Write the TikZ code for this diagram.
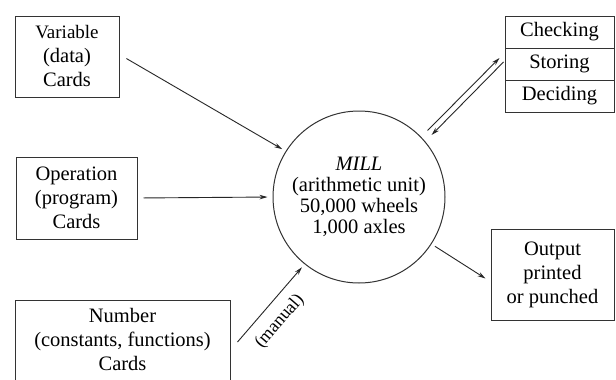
\documentclass[tikz,border=0pt]{standalone}
\usepackage{fontspec}
\setmainfont{Liberation Serif}
\usetikzlibrary{arrows.meta,calc}
\newcommand{\txtfont}{\fontsize{20.5}{24}\selectfont}
\newcommand{\millfont}{\fontsize{20.5}{21}\selectfont}
\begin{document}
\begin{tikzpicture}[x=1pt,y=-1pt,
  box/.style={draw=black!80, line width=1pt, inner sep=0pt, align=center, font=\txtfont},
  txt/.style={inner sep=0pt, align=center, font=\txtfont},
  arr/.style={draw=black!85, line width=0.9pt, -{Stealth[length=8pt,width=4.5pt]}},
  rarr/.style={draw=black!85, line width=0.9pt, {Stealth[length=8pt,width=4.5pt]}-}]
\useasboundingbox (0,0) rectangle (616,380);
\fill[white] (0,0) rectangle (616,380);

% boxes
\node[box, minimum width=104pt, minimum height=81pt] (var) at (67,56.5) {\fontsize{19}{23}\selectfont Variable\\(data)\\Cards};
\node[box, minimum width=121pt, minimum height=82pt] (op) at (76.5,198) {Operation\\(program)\\Cards};
\node[box, minimum width=215pt, minimum height=88pt] (num) at (122.5,344) {};
\node[txt] (numtxt) at (122.5,339) {Number\\(constants, functions)\\Cards};

\node[box, minimum width=109pt, minimum height=32pt] (chk) at (559.5,32) {Checking};
\node[box, minimum width=109pt, minimum height=32pt] (sto) at (559.5,64) {Storing};
\node[box, minimum width=109pt, minimum height=32pt] (dec) at (559.5,96) {Deciding};

\node[box, minimum width=123pt, minimum height=91pt] (out) at (552.5,274.5) {Output\\printed\\or punched};

% mill
\node[draw=black!80, line width=1pt, circle, minimum size=172pt, inner sep=0pt,
      align=center, font=\millfont] (mill) at (359,197)
      {\textit{MILL}\\(arithmetic unit)\\50,000 wheels\\1,000 axles};

% connectors
\draw[arr, shorten <=8pt, shorten >=4pt] (var.east) ++(0,-2) coordinate (vs) -- (mill.148);
\draw[arr, shorten <=6pt, shorten >=5pt] (op.east) -- (mill.180);
\draw[arr, shorten >=4pt] ($(num.east)+(7,-2)$) coordinate (ns) --
  node[sloped, below=10pt, pos=0.42, font=\fontsize{18}{20}\selectfont, inner sep=0pt] {(manual)} (mill.231);
\draw[arr, shorten <=4pt] (mill.-33) -- ($(out.west)+(-5,4)$) coordinate (oe);
\draw[arr, shorten <=9pt] (mill.44) -- ($(sto.west)+(-5,-6)$) coordinate (ue);
\draw[rarr, shorten <=9pt] (mill.40) -- ($(sto.west)+(-1,-2)$) coordinate (le);
\end{tikzpicture}
\end{document}
